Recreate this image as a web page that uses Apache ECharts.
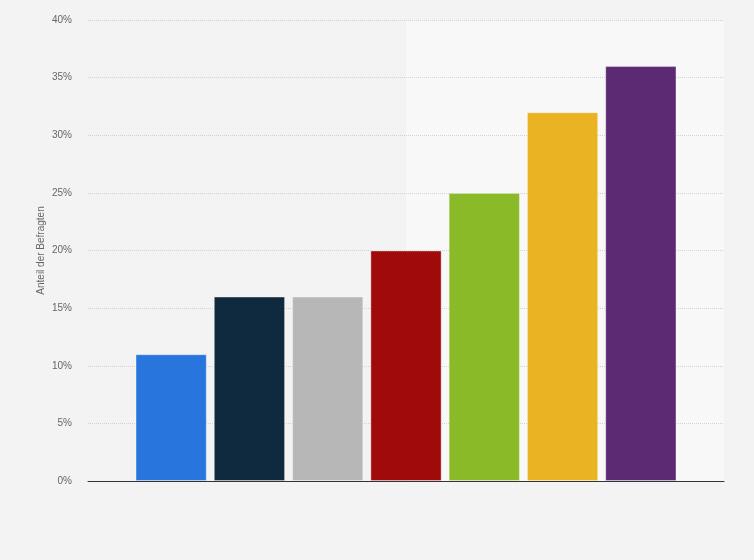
<!DOCTYPE html>
<html>
<head>
    <meta charset="utf-8">
    <title>Anteil der Befragten</title>
    <script src="https://cdn.jsdelivr.net/npm/echarts@6.0.0/dist/echarts.min.js"></script>
    <style>
        html, body { margin: 0; padding: 0; background: #f3f3f3; }
        #chart { width: 754px; height: 560px; }
    </style>
</head>
<body>
<div id="chart"></div>
<script>
    // Werte (Achsenbeschriftungen sind im Original ausgeblendet)
    const categories = ['A', 'B', 'C', 'D', 'E', 'F', 'G'];
    const values = [11, 16, 16, 20, 25, 32, 36];
    const barColors = ['#2876dd', '#0f2a3f', '#b7b7b7', '#a10a0a', '#8aba27', '#e9b323', '#5c2a72'];
    const yTicks = { min: 0, max: 40, step: 5 };

    const chart = echarts.init(document.getElementById('chart'));

    const option = {
        backgroundColor: '#f3f3f3',
        animation: false,
        grid: [
            { left: 88, right: 30, top: 20, bottom: 79 },
            { left: 132, right: 74, top: 20, bottom: 79 }
        ],
        xAxis: [
            {
                // Hintergrundhälften
                gridIndex: 0,
                type: 'category',
                position: 'top',
                data: ['', ''],
                z: 0,
                axisLine: { show: false },
                axisTick: { show: false },
                axisLabel: { show: false },
                splitArea: { show: true, areaStyle: { color: ['rgba(0,0,0,0)', '#f8f8f8'] } }
            },
            {
                gridIndex: 1,
                type: 'category',
                data: categories,
                axisLine: { show: false },
                axisTick: { show: false },
                axisLabel: { show: false }
            },
            {
                // Grundlinie über volle Breite
                gridIndex: 0,
                type: 'category',
                position: 'bottom',
                data: [''],
                z: 5,
                axisLine: { show: true, lineStyle: { color: '#333', width: 1 } },
                axisTick: { show: false },
                axisLabel: { show: false }
            }
        ],
        yAxis: [
            {
                gridIndex: 0,
                type: 'value',
                z: 1,
                min: yTicks.min,
                max: yTicks.max,
                interval: yTicks.step,
                name: 'Anteil der Befragten',
                nameLocation: 'middle',
                nameGap: 42,
                nameMoveOverlap: false,
                nameTextStyle: { color: '#666', fontSize: 10, fontFamily: 'Liberation Sans, Arial, sans-serif' },
                axisLine: { show: false },
                axisTick: { show: false },
                axisLabel: {
                    color: '#666',
                    fontSize: 10,
                    margin: 16,
                    padding: [3, 0, 0, 0],
                    fontFamily: 'Liberation Sans, Arial, sans-serif',
                    formatter: '{value}%'
                },
                splitLine: { lineStyle: { color: '#d2d2d2', type: [1, 1], width: 1 } }
            },
            {
                gridIndex: 1,
                type: 'value',
                min: yTicks.min,
                max: yTicks.max,
                interval: yTicks.step,
                show: false,
                splitLine: { show: false }
            }
        ],
        series: [{
            type: 'bar',
            xAxisIndex: 1,
            yAxisIndex: 1,
            z: 2,
            barCategoryGap: '9%',
            data: values.map((v, i) => ({
                value: v,
                itemStyle: { color: barColors[i] }
            })),
            itemStyle: { borderColor: 'rgba(255,255,255,0.35)', borderWidth: 1 }
        }]
    };

    chart.setOption(option);
</script>
</body>
</html>
